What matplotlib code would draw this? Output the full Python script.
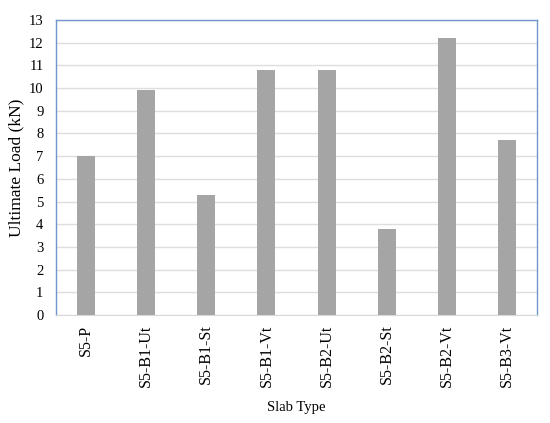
import matplotlib.pyplot as plt
import numpy as np

slabs = ["S5-P", "S5-B1-Ut", "S5-B1-St", "S5-B1-Vt", "S5-B2-Ut", "S5-B2-St", "S5-B2-Vt", "S5-B3-Vt"]
loads = [7.0, 9.9, 5.3, 10.8, 10.8, 3.8, 12.2, 7.7]
yticks = list(range(0, 14))

plt.rcParams["font.family"] = ["Liberation Serif", "DejaVu Serif"]

fig = plt.figure(figsize=(5.5, 4.23), dpi=100)
ax = fig.add_axes([56 / 550, 1 - 315 / 423, 481 / 550, 295 / 423])

x = np.arange(len(slabs))
ax.bar(x, loads, width=0.3, color="#a5a5a5", zorder=3)

ax.set_xlim(-0.5, len(slabs) - 0.5)
ax.set_ylim(0, 13)
ax.set_yticks(yticks)
ax.set_xticks(x)
ax.set_xticklabels(slabs, rotation=90, fontsize=11.5)
ax.tick_params(axis="y", labelsize=10.5, length=0, pad=9)
ax.tick_params(axis="x", length=0, pad=7)
ax.grid(axis="y", color="#dedede", linewidth=1, zorder=0)

for side in ["left", "top", "right"]:
    ax.spines[side].set_color("#7096cc")
    ax.spines[side].set_linewidth(1)
ax.spines["bottom"].set_color("#d9d9d9")

ax.set_xlabel("Slab Type", fontsize=10.5, labelpad=10)
ax.set_ylabel("Ultimate Load (kN)", fontsize=12.5)
ax.yaxis.set_label_coords(-0.083, 0.5)
ax.yaxis.label.set_va("center")

fig.savefig("out.png", dpi=100)
